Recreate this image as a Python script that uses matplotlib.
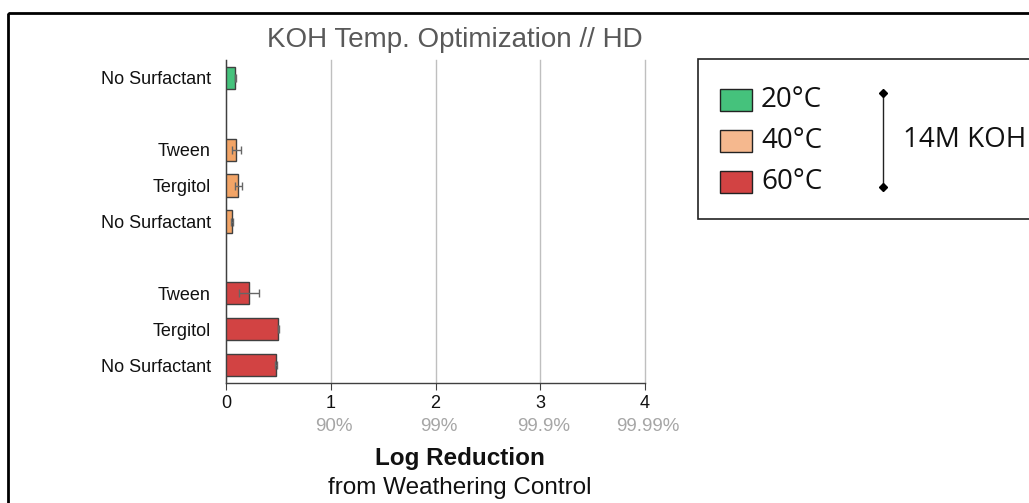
import matplotlib.pyplot as plt
from matplotlib.patches import Rectangle
from matplotlib.transforms import blended_transform_factory, offset_copy

plt.rcParams['font.family'] = ['Liberation Sans', 'DejaVu Sans']

# rows from top to bottom, None marks a spacer row
labels = ["No Surfactant", None, "Tween", "Tergitol", "No Surfactant", None,
          "Tween", "Tergitol", "No Surfactant"]
groups = ["20", None, "40", "40", "40", None, "60", "60", "60"]
values = [0.09, None, 0.10, 0.117, 0.06, None, 0.22, 0.50, 0.475]
errors = [0.006, None, 0.045, 0.033, 0.01, None, 0.093, 0.008, 0.008]

colors = {"20": "#45c27c", "40": "#f2a466", "60": "#d24343"}
legend_colors = {"20": "#45c27c", "40": "#f5b88e", "60": "#d24343"}
legend_labels = ["20°C", "40°C", "60°C"]

ticks = [0, 1, 2, 3, 4]
pct_labels = ["", "90%", "99%", "99.9%", "99.99%"]

fig = plt.figure(figsize=(10.29, 5.03), dpi=100)
W, H = 1029, 503
ax = fig.add_axes([226 / W, 1 - 383 / H, (645 - 226) / W, (383 - 60) / H])

ypos = [i for i, v in enumerate(values) if v is not None]
ax.barh(ypos, [values[i] for i in ypos], height=0.62,
        color=[colors[groups[i]] for i in ypos], edgecolor="#404040",
        linewidth=1, xerr=[errors[i] for i in ypos],
        error_kw=dict(ecolor="#666666", elinewidth=1, capsize=3, capthick=1),
        zorder=3)

ax.set_ylim(8.5, -0.5)
ax.set_xlim(0, 4)
ax.set_yticks(ypos)
ax.set_yticklabels([labels[i] for i in ypos], fontsize=13, color="#111111")
ax.tick_params(axis="y", length=0, pad=11)
ax.set_xticks(ticks)
ax.set_xticklabels([str(t) for t in ticks], fontsize=13, color="#111111")
ax.tick_params(axis="x", direction="out", length=5, color="#404040", pad=4)
ax.grid(axis="x", color="#bfbfbf", linewidth=1, zorder=0)
for line in ax.get_xgridlines():
    line.set_clip_on(False)
for s in ["top", "right"]:
    ax.spines[s].set_visible(False)
for s in ["left", "bottom"]:
    ax.spines[s].set_color("#404040")
    ax.spines[s].set_linewidth(1)

trans = offset_copy(blended_transform_factory(ax.transData, ax.transAxes),
                    fig=fig, x=3, y=0, units="dots")
for t, p in zip(ticks, pct_labels):
    ax.text(t, -0.135, p, transform=trans, ha="center", va="center",
            fontsize=13.5, color="#a6a6a6")

fig.text(455 / W, 1 - 40 / H, "KOH Temp. Optimization // HD", fontsize=20,
         color="#595959", ha="center", va="center")
fig.text(460 / W, 1 - 459 / H, "Log Reduction", ha="center", va="center",
         fontsize=17.5, fontweight="bold", color="#111111")
fig.text(460 / W, 1 - 488 / H, "from Weathering Control", ha="center",
         va="center", fontsize=17.5, color="#111111")

# overlay in pixel coordinates for frame and legend
ov = fig.add_axes([0, 0, 1, 1], zorder=-1)
ov.set_xlim(0, W)
ov.set_ylim(H, 0)
ov.axis("off")
ov.add_patch(Rectangle((8, 13), W + 20, H + 20, fill=False,
                       edgecolor="black", linewidth=2))

ov2 = fig.add_axes([0, 0, 1, 1], zorder=5)
ov2.set_xlim(0, W)
ov2.set_ylim(H, 0)
ov2.axis("off")
ov2.patch.set_alpha(0)
ov2.add_patch(Rectangle((698, 59), W, 160, facecolor="white",
                        edgecolor="#222222", linewidth=1.2))
for k, (g, lab) in enumerate(zip(["20", "40", "60"], legend_labels)):
    y = 100 + k * 41
    ov2.add_patch(Rectangle((720, y - 11), 32, 22, facecolor=legend_colors[g],
                            edgecolor="#222222", linewidth=1))
    ov2.text(761, y, lab, fontsize=20, va="center", ha="left",
             family=["Open Sans", "DejaVu Sans"], color="#111111")
ov2.plot([883, 883], [93, 187], color="#222222", linewidth=1)
ov2.plot([883, 883], [93, 187], linestyle="none", marker="D", markersize=4,
         color="black")
ov2.text(903, 140, "14M KOH", fontsize=20, va="center", ha="left",
         family=["Open Sans", "DejaVu Sans"], color="#111111")

fig.savefig("out.png", dpi=100)
